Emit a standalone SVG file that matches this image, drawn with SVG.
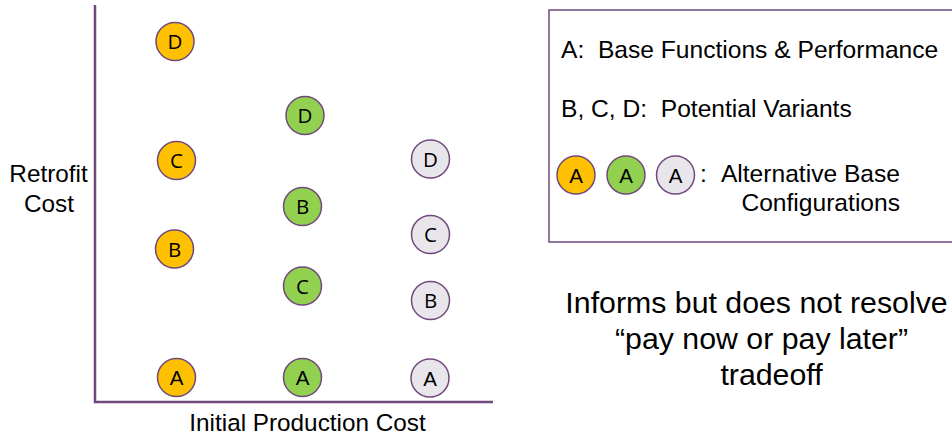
<svg xmlns="http://www.w3.org/2000/svg" width="952" height="437" viewBox="0 0 952 437">
<style>
.t{font-family:"Liberation Sans",Arial,sans-serif;fill:#000}
.c{stroke:#70497C;stroke-width:1.5}
.o{fill:#FFC000}
.g{fill:#92D050}
.w{fill:#E8E6EB}
.l{font-family:"Open Sans","Liberation Sans",sans-serif;font-size:20.5px;text-anchor:middle;fill:#000}
.la{font-family:"Liberation Sans",Arial,sans-serif;font-size:20.5px;text-anchor:middle;fill:#000}
</style>
<rect width="952" height="437" fill="#fff"/>
<g id="axes">
<path d="M95 5 V402 H493" fill="none" stroke="#70497C" stroke-width="2.5"/>
</g>
<g id="labels">
<text class="t" font-size="24.3" x="48.5" y="181.5" text-anchor="middle">Retrofit</text>
<text class="t" font-size="24.3" x="49" y="211.5" text-anchor="middle">Cost</text>
<text class="t" font-size="24.3" x="307.5" y="430.5" text-anchor="middle">Initial Production Cost</text>
</g>
<g id="orange-D"><circle class="c o" cx="175" cy="41.5" r="19"/><text class="l" x="175" y="49">D</text></g>
<g id="orange-C"><circle class="c o" cx="176.5" cy="160.5" r="19"/><text class="l" x="176.5" y="168">C</text></g>
<g id="orange-B"><circle class="c o" cx="174.5" cy="249" r="19"/><text class="l" x="174.5" y="256.5">B</text></g>
<g id="orange-A"><circle class="c o" cx="176.5" cy="377.5" r="19"/><text class="la" x="176.5" y="385">A</text></g>
<g id="green-D"><circle class="c g" cx="305" cy="115.5" r="19"/><text class="l" x="305" y="123">D</text></g>
<g id="green-B"><circle class="c g" cx="302.5" cy="206.5" r="19"/><text class="l" x="302.5" y="214">B</text></g>
<g id="green-C"><circle class="c g" cx="302.5" cy="286" r="19"/><text class="l" x="302.5" y="293.5">C</text></g>
<g id="green-A"><circle class="c g" cx="302.5" cy="377.5" r="19"/><text class="la" x="302.5" y="385">A</text></g>
<g id="gray-D"><circle class="c w" cx="430.5" cy="159" r="19"/><text class="l" x="430.5" y="166.5">D</text></g>
<g id="gray-C"><circle class="c w" cx="430.5" cy="234.5" r="19"/><text class="l" x="430.5" y="242">C</text></g>
<g id="gray-B"><circle class="c w" cx="430.5" cy="300.5" r="19"/><text class="l" x="430.5" y="308">B</text></g>
<g id="gray-A"><circle class="c w" cx="430" cy="378" r="19"/><text class="la" x="430" y="385.5">A</text></g>
<g id="legend">
<rect x="549" y="10" width="420" height="232" fill="none" stroke="#70497C" stroke-width="1.5"/>
<text class="t" font-size="24.6" x="561" y="58" xml:space="preserve">A:  Base Functions &amp; Performance</text>
<text class="t" font-size="24.6" x="561" y="117" xml:space="preserve">B, C, D:  Potential Variants</text>
<circle class="c o" cx="576" cy="175" r="19"/><text class="la" x="576" y="182.5">A</text>
<circle class="c g" cx="626" cy="175" r="19"/><text class="la" x="626" y="182.5">A</text>
<circle class="c w" cx="675.5" cy="175" r="19"/><text class="la" x="675.5" y="182.5">A</text>
<text class="t" font-size="24.6" x="700" y="182">:</text>
<text class="t" font-size="24.6" x="900" y="182" text-anchor="end">Alternative Base</text>
<text class="t" font-size="24.6" x="900" y="211" text-anchor="end">Configurations</text>
</g>
<g id="note">
<text class="t" font-size="30.3" x="756.5" y="313" text-anchor="middle">Informs but does not resolve</text>
<text class="t" font-size="30.3" x="761.5" y="349" text-anchor="middle">“pay now or pay later”</text>
<text class="t" font-size="30.3" x="771.5" y="385" text-anchor="middle">tradeoff</text>
</g>
</svg>
